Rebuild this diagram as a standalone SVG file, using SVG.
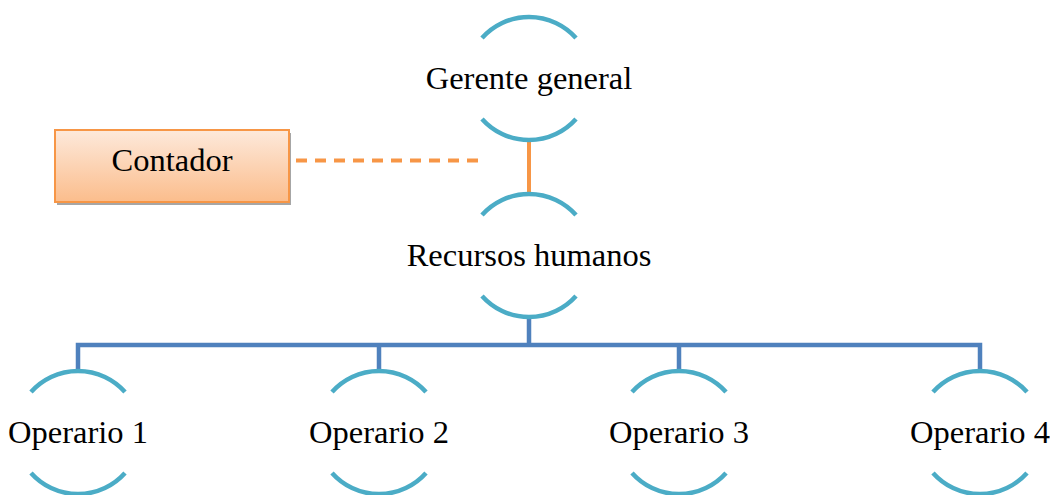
<svg xmlns="http://www.w3.org/2000/svg" width="1050" height="495" viewBox="0 0 1050 495">
<defs>
<linearGradient id="og" x1="0" y1="0" x2="0" y2="1">
<stop offset="0" stop-color="#fde9db"/>
<stop offset="1" stop-color="#fbbd8c"/>
</linearGradient>
<style>
.arc{fill:none;stroke:#4bacc6;stroke-width:4.5}
.lbl{font-family:"Liberation Serif","Times New Roman",serif;font-size:32.5px;fill:#000;text-anchor:middle}
.blue{fill:none;stroke:#4f81bd;stroke-width:4.5}
.orange{fill:none;stroke:#f79646;stroke-width:4}
</style>
</defs>
<g id="connectors">
<line class="orange" x1="529" y1="142" x2="529" y2="192"/>
<line class="orange" x1="296" y1="160.5" x2="481" y2="160.5" stroke-width="2.5" stroke-dasharray="11,8"/>
<path class="blue" d="M529,317 V345 M78,370 V345 H980 V370 M379,345 V370 M679,345 V370"/>
</g>
<g id="contador">
<rect x="57" y="133" width="234" height="72" fill="#a6a6a6"/>
<rect x="55" y="130" width="234" height="72" fill="url(#og)" stroke="#f79646" stroke-width="2"/>
<text class="lbl" x="172" y="171">Contador</text>
</g>
<g id="gerente">
<path class="arc" d="M482,38 A63,63 0 0 1 576,38 M482,119 A63,63 0 0 0 576,119"/>
<text class="lbl" x="529" y="89">Gerente general</text>
</g>
<g id="recursos">
<path class="arc" d="M482,215 A63,63 0 0 1 576,215 M482,296 A63,63 0 0 0 576,296"/>
<text class="lbl" x="529" y="266">Recursos humanos</text>
</g>
<g id="op1">
<path class="arc" d="M31,392 A63,63 0 0 1 125,392 M31,473 A63,63 0 0 0 125,473"/>
<text class="lbl" x="78" y="443">Operario 1</text>
</g>
<g id="op2">
<path class="arc" d="M332,392 A63,63 0 0 1 426,392 M332,473 A63,63 0 0 0 426,473"/>
<text class="lbl" x="379" y="443">Operario 2</text>
</g>
<g id="op3">
<path class="arc" d="M632,392 A63,63 0 0 1 726,392 M632,473 A63,63 0 0 0 726,473"/>
<text class="lbl" x="679" y="443">Operario 3</text>
</g>
<g id="op4">
<path class="arc" d="M933,392 A63,63 0 0 1 1027,392 M933,473 A63,63 0 0 0 1027,473"/>
<text class="lbl" x="980" y="443">Operario 4</text>
</g>
</svg>
